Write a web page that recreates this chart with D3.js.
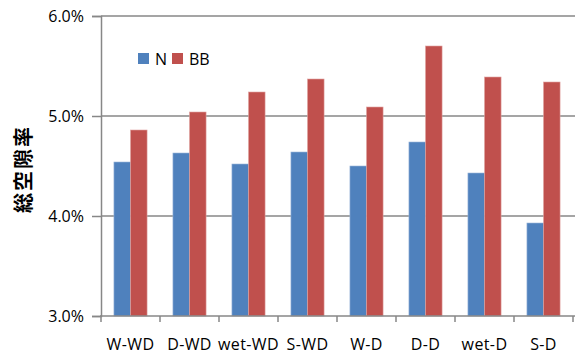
<!DOCTYPE html>
<html>
<head>
<meta charset="utf-8">
<script src="https://cdn.jsdelivr.net/npm/d3@7"></script>
<style>
  html, body { margin: 0; padding: 0; background: #fff; }
  svg { display: block; }
  text { font-family: "Open Sans", "Liberation Sans", sans-serif; fill: #000; }
</style>
</head>
<body>
<svg id="chart" width="576" height="354"></svg>
<script>
// Categories and series
const categories = ["W-WD", "D-WD", "wet-WD", "S-WD", "W-D", "D-D", "wet-D", "S-D"];
const seriesNames = ["N", "BB"];
const valuesN  = [4.54, 4.63, 4.52, 4.64, 4.50, 4.74, 4.43, 3.93];
const valuesBB = [4.86, 5.04, 5.24, 5.37, 5.09, 5.70, 5.39, 5.34];
const yTicks = [3.0, 4.0, 5.0, 6.0];
const yTitle = "総空隙率";
const colors = { N: "#4F81BD", BB: "#C0504D" };

const svg = d3.select("#chart");
const plotLeft = 101, plotRight = 573, plotTop = 16, plotBottom = 316;
const axisColor = "#878787";

const x0 = d3.scaleBand().domain(categories).range([plotLeft, plotRight]).padding(0);
const x1 = d3.scaleBand().domain(seriesNames).range([0, x0.bandwidth()])
  .paddingInner(0).paddingOuter(0.78);
const y = d3.scaleLinear().domain([3, 6]).range([plotBottom, plotTop]);

// Horizontal gridlines
svg.append("g")
  .selectAll("line")
  .data(yTicks.filter(t => t > 3))
  .join("line")
  .attr("x1", plotLeft).attr("x2", plotRight + 2)
  .attr("y1", d => y(d)).attr("y2", d => y(d))
  .attr("stroke", axisColor).attr("stroke-width", 1.5);

// Bars
const rows = categories.map((c, i) => ({ cat: c, N: valuesN[i], BB: valuesBB[i] }));
const groups = svg.append("g")
  .selectAll("g")
  .data(rows)
  .join("g")
  .attr("transform", d => `translate(${x0(d.cat)},0)`);

groups.selectAll("rect")
  .data(d => seriesNames.map(s => ({ s, v: d[s] })))
  .join("rect")
  .attr("x", d => x1(d.s))
  .attr("y", d => y(d.v))
  .attr("width", x1.bandwidth())
  .attr("height", d => y(3) - y(d.v))
  .attr("fill", d => colors[d.s])
  .attr("stroke", d => d.s === "N" ? "#9DB7DA" : "#E0A3A1")
  .attr("stroke-width", 0.6);

// Y axis
const yAxis = d3.axisLeft(y)
  .tickValues(yTicks)
  .tickSize(9)
  .tickPadding(8)
  .tickFormat(d => d3.format(".1f")(d) + "%");
const gy = svg.append("g")
  .attr("transform", `translate(${plotLeft},0)`)
  .call(yAxis);
gy.select(".domain").attr("stroke", axisColor).attr("stroke-width", 1.5);
gy.selectAll(".tick line").attr("stroke", axisColor).attr("stroke-width", 1.5);
gy.selectAll(".tick text").attr("font-size", 16).attr("font-family", "'Open Sans', sans-serif").attr("fill", "#000");

// X axis with ticks on category boundaries
const gx = svg.append("g")
  .attr("transform", `translate(0,${plotBottom})`);
gx.append("line")
  .attr("x1", plotLeft - 1).attr("x2", plotRight + 2)
  .attr("stroke", axisColor).attr("stroke-width", 1.5);
const boundaries = categories.map(c => x0(c)).concat([x0.range()[1]]);
gx.selectAll("line.b")
  .data(boundaries)
  .join("line")
  .attr("class", "b")
  .attr("x1", d => d).attr("x2", d => d)
  .attr("y1", 0).attr("y2", 6)
  .attr("stroke", axisColor).attr("stroke-width", 1.5);
gx.selectAll("text")
  .data(categories)
  .join("text")
  .attr("x", d => x0(d) + x0.bandwidth() / 2)
  .attr("y", 34)
  .attr("text-anchor", "middle")
  .attr("font-size", 16)
  .attr("letter-spacing", 0.4)
  .text(d => d);

// Y axis title
svg.append("text")
  .attr("transform", "translate(31,169) rotate(-90)")
  .attr("text-anchor", "middle")
  .attr("font-weight", "bold")
  .attr("font-size", 20)
  .attr("letter-spacing", 2)
  .style("font-family", "'Noto Sans CJK JP', sans-serif")
  .text(yTitle);

// Legend
const legend = svg.append("g").attr("transform", "translate(138,53)");
const legendX = [0, 34];
seriesNames.forEach((s, i) => {
  const g = legend.append("g").attr("transform", `translate(${legendX[i]},0)`);
  g.append("rect").attr("width", 11).attr("height", 11).attr("fill", colors[s]);
  g.append("text").attr("x", 17).attr("y", 11.5).attr("font-size", 16).text(s);
});
</script>
</body>
</html>
